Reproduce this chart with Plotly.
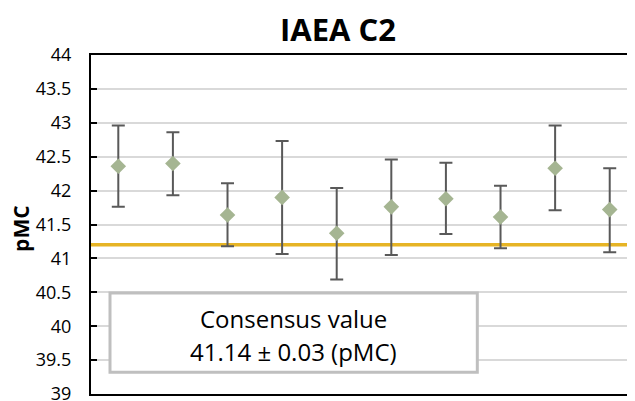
import plotly.graph_objects as go

# ---- data ----
labs = [1, 2, 3, 4, 5, 6, 7, 8, 9, 10]
pmc_values = [42.36, 42.40, 41.64, 41.90, 41.37, 41.76, 41.88, 41.61, 42.33, 41.72]
pmc_upper = [42.96, 42.86, 42.11, 42.73, 42.04, 42.46, 42.41, 42.07, 42.96, 42.33]
pmc_lower = [41.76, 41.93, 41.18, 41.065, 40.69, 41.05, 41.36, 41.15, 41.71, 41.09]
consensus_line = 41.2
y_ticks = [39, 39.5, 40, 40.5, 41, 41.5, 42, 42.5, 43, 43.5, 44]
title_text = "IAEA C2"
y_title = "pMC"
box_line1 = "Consensus value"
box_line2 = "41.14 ± 0.03 (pMC)"

err_plus = [u - v for u, v in zip(pmc_upper, pmc_values)]
err_minus = [v - l for v, l in zip(pmc_values, pmc_lower)]

FONT = "Open Sans"

fig = go.Figure()
fig.add_trace(go.Scatter(
    x=labs, y=pmc_values, mode="markers",
    marker=dict(symbol="diamond", size=12, color="#A5B592", line=dict(width=0)),
    error_y=dict(type="data", symmetric=False, array=err_plus, arrayminus=err_minus,
                 color="#595959", thickness=2, width=6.5),
    showlegend=False, hoverinfo="skip",
))

# consensus line
fig.add_shape(type="line", xref="paper", x0=0, x1=1, yref="y",
              y0=consensus_line, y1=consensus_line,
              line=dict(color="#E6B425", width=3.5), layer="below")

# consensus text box
fig.add_shape(type="rect", xref="x", yref="y", x0=0.848, x1=7.575, y0=39.32, y1=40.49,
              fillcolor="white", line=dict(color="#BFBFBF", width=3), layer="above")
fig.add_annotation(xref="x", yref="y", x=4.21, y=40.12, text=box_line1, showarrow=False,
                   font=dict(family=FONT, size=24, color="#000"), xanchor="center", yanchor="middle")
fig.add_annotation(xref="x", yref="y", x=4.21, y=39.63, text=box_line2, showarrow=False,
                   font=dict(family=FONT, size=24, color="#000"), xanchor="center", yanchor="middle")

# title and y title
fig.add_annotation(xref="paper", yref="paper", x=(338 - 91) / 544, y=(394 - 29) / 339,
                   text="<b>" + title_text + "</b>", showarrow=False,
                   font=dict(family=FONT, size=31, color="#000"), xanchor="center", yanchor="middle")
fig.add_annotation(xref="paper", yref="paper", x=(21 - 91) / 544, y=0.487,
                   text="<b>" + y_title + "</b>", showarrow=False, textangle=-90,
                   font=dict(family=FONT, size=21, color="#000"), xanchor="center", yanchor="middle")

# the page body adds an 8px margin, so the figure is sized to fill the rest
fig.update_layout(
    width=627, height=393,
    margin=dict(l=83, r=0, t=47, b=7),
    paper_bgcolor="white", plot_bgcolor="white",
    font=dict(family=FONT, color="#000"),
    xaxis=dict(range=[0.5, 10.463], showgrid=False, zeroline=False, showticklabels=False,
               ticks="", showline=True, linecolor="black", linewidth=2, mirror=True),
    yaxis=dict(range=[39, 44], tickvals=y_ticks, ticktext=[f"{v:g}" for v in y_ticks],
               showgrid=True, gridcolor="#D9D9D9", gridwidth=1.5, zeroline=False,
               showline=True, linecolor="black", linewidth=2, automargin=False,
               ticklabeloverflow="allow",
               ticks="inside", ticklen=6, tickwidth=2, tickcolor="black",
               tickfont=dict(family=FONT, size=18, color="#000"), ticklabelstandoff=14),
)

fig.write_html("out.html")
